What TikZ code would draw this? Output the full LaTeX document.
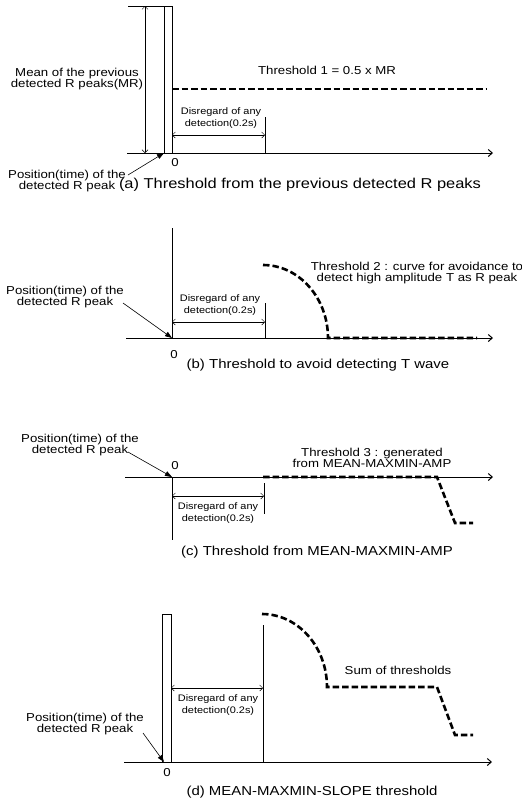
\documentclass[tikz,border=0pt]{standalone}
\usepackage{fontspec}
\setmainfont{Liberation Sans}[FakeStretch=1.15]
\usetikzlibrary{positioning, arrows, arrows.meta}

\begin{document}
\begin{tikzpicture}[x=1pt, y=-1pt,
    lbl/.style={align=center, font=\fontsize{11.5}{11.5}\selectfont, inner sep=0pt},
    small/.style={align=center, font=\fontsize{9.5}{12}\selectfont, inner sep=0pt},
    captxt/.style={font=\fontsize{13}{15}\selectfont, inner sep=0pt},
    timeaxis/.style={line width=1pt, -{Straight Barb[length=4pt, width=7pt]}},
    skiparrow/.style={line width=0.5pt, {Straight Barb[length=3pt, width=6pt]}-{Straight Barb[length=3pt, width=6pt]}},
    pointer/.style={line width=0.6pt, -{Triangle[length=7pt, width=5pt]}},
    thr/.style={line width=2.6pt, dash pattern=on 6.5pt off 3pt},
    vline/.style={line width=0.8pt}]
    \useasboundingbox (0,0) rectangle (522,801);

    % (a) threshold from the previous R peaks
    \coordinate (a0) at (127,153);
    \coordinate (a1) at (493,153);
    \coordinate (oa) at (172,153);
    \coordinate (pa) at (164,153);
    \coordinate (ta) at (172,6);
    \coordinate (tpa) at (164,6);
    \coordinate (tla) at (128,6);
    \coordinate (mrt) at (145,6);
    \coordinate (mrb) at (145,153);
    \coordinate (da) at (172,135);
    \coordinate (ea) at (265,135);
    \coordinate (eta) at (265,117);
    \coordinate (eba) at (265,153);
    \coordinate (th1s) at (172,89);
    \coordinate (th1e) at (487,89);
    \coordinate (qa) at (128,175);

    \node[lbl] (mr) at (77,79) {Mean of the previous\\detected R peaks(MR)};
    \node[lbl] (th1) at (327,70) {Threshold 1 = 0.5 x MR};
    \node[small] (dla) at (221,118) {Disregard of any\\detection(0.2s)};
    \node[lbl] (zeroa) at (175,163) {0};
    \node[lbl] (posa) at (67,181) {Position(time) of the\\detected R peak};
    \node[captxt, font=\fontsize{14.3}{16}\selectfont] (capa) at (300,185) {(a) Threshold from the previous detected R peaks};

    \draw[timeaxis] (a0) -- (a1);
    \draw[vline] (tla) -- (ta) -- (oa);
    \draw[vline] (tpa) -- (pa);
    \draw[skiparrow] (mrt) -- (mrb);
    \draw[skiparrow] (da) -- (ea);
    \draw[vline] (eta) -- (eba);
    \draw[thr] (th1s) -- (th1e);
    \draw[pointer] (qa) -- (pa);

    % (b) threshold against T wave
    \coordinate (b0) at (126,338);
    \coordinate (b1) at (493,338);
    \coordinate (ob) at (172,338);
    \coordinate (tb) at (172,228);
    \coordinate (db) at (172,322);
    \coordinate (eb) at (265,322);
    \coordinate (etb) at (265,303);
    \coordinate (ebb) at (265,338);
    \coordinate (th2s) at (263,265);
    \coordinate (th2m) at (328,338);
    \coordinate (th2e) at (477,338);
    \coordinate (qb) at (123,303);

    \node[small] (dlb) at (220,305) {Disregard of any\\detection(0.2s)};
    \node[lbl] (zerob) at (174,355) {0};
    \node[lbl] (posb) at (65,297) {Position(time) of the\\detected R peak};
    \node[lbl] (th2) at (417,273) {Threshold 2 : curve for avoidance to\\detect high amplitude T as R peak};
    \node[captxt] (capb) at (318,365) {(b) Threshold to avoid detecting T wave};

    \draw[timeaxis] (b0) -- (b1);
    \draw[vline] (tb) -- (ob);
    \draw[skiparrow] (db) -- (eb);
    \draw[vline] (etb) -- (ebb);
    \draw[thr] (th2s) .. controls ++(36,0) and ++(0,-40) .. (th2m) -- (th2e);
    \draw[pointer] (qb) -- (ob);

    % (c) threshold from MEAN-MAXMIN-AMP
    \coordinate (c0) at (125,477);
    \coordinate (c1) at (493,477);
    \coordinate (oc) at (172,477);
    \coordinate (lc) at (172,540);
    \coordinate (dc) at (172,496);
    \coordinate (ec) at (264,496);
    \coordinate (etc) at (264,483);
    \coordinate (ebc) at (264,514);
    \coordinate (th3s) at (263,477);
    \coordinate (th3a) at (437,477);
    \coordinate (th3b) at (455,523);
    \coordinate (th3e) at (473,523);
    \coordinate (qc) at (128,452);

    \node[small] (dlc) at (218,513) {Disregard of any\\detection(0.2s)};
    \node[lbl] (zeroc) at (175,466) {0};
    \node[lbl] (posc) at (80,445) {Position(time) of the\\detected R peak};
    \node[lbl] (th3) at (372,458) {Threshold 3 : generated\\from MEAN-MAXMIN-AMP};
    \node[captxt] (capc) at (317,552) {(c) Threshold from MEAN-MAXMIN-AMP};

    \draw[timeaxis] (c0) -- (c1);
    \draw[line width=0.5pt] (oc) -- (lc);
    \draw[skiparrow] (dc) -- (ec);
    \draw[vline] (etc) -- (ebc);
    \draw[thr] (th3s) -- (th3a) -- (th3b) -- (th3e);
    \draw[pointer] (qc) -- (oc);

    % (d) sum of the thresholds
    \coordinate (d0) at (124,762);
    \coordinate (d1) at (492,762);
    \coordinate (pd) at (164,762);
    \coordinate (rl) at (162,614);
    \coordinate (rr) at (171,762);
    \coordinate (dd) at (171,688);
    \coordinate (ed) at (263,688);
    \coordinate (etd) at (263,625);
    \coordinate (ebd) at (263,762);
    \coordinate (sms) at (262,614);
    \coordinate (smm) at (327,687);
    \coordinate (sma) at (437,687);
    \coordinate (smb) at (455,735);
    \coordinate (sme) at (473,735);
    \coordinate (qd) at (143,733);

    \node[small] (dld) at (218,705) {Disregard of any\\detection(0.2s)};
    \node[lbl] (zerod) at (167,773) {0};
    \node[lbl] (posd) at (85,724) {Position(time) of the\\detected R peak};
    \node[lbl] (sum) at (398,670) {Sum of thresholds};
    \node[captxt] (capd) at (312,792) {(d) MEAN-MAXMIN-SLOPE threshold};

    \draw[timeaxis] (d0) -- (d1);
    \draw[vline] (rl) rectangle (rr);
    \draw[skiparrow] (dd) -- (ed);
    \draw[vline] (etd) -- (ebd);
    \draw[thr] (sms) .. controls ++(36,0) and ++(0,-40) .. (smm) -- (sma) -- (smb) -- (sme);
    \draw[pointer] (qd) -- (pd);
\end{tikzpicture}
\end{document}
